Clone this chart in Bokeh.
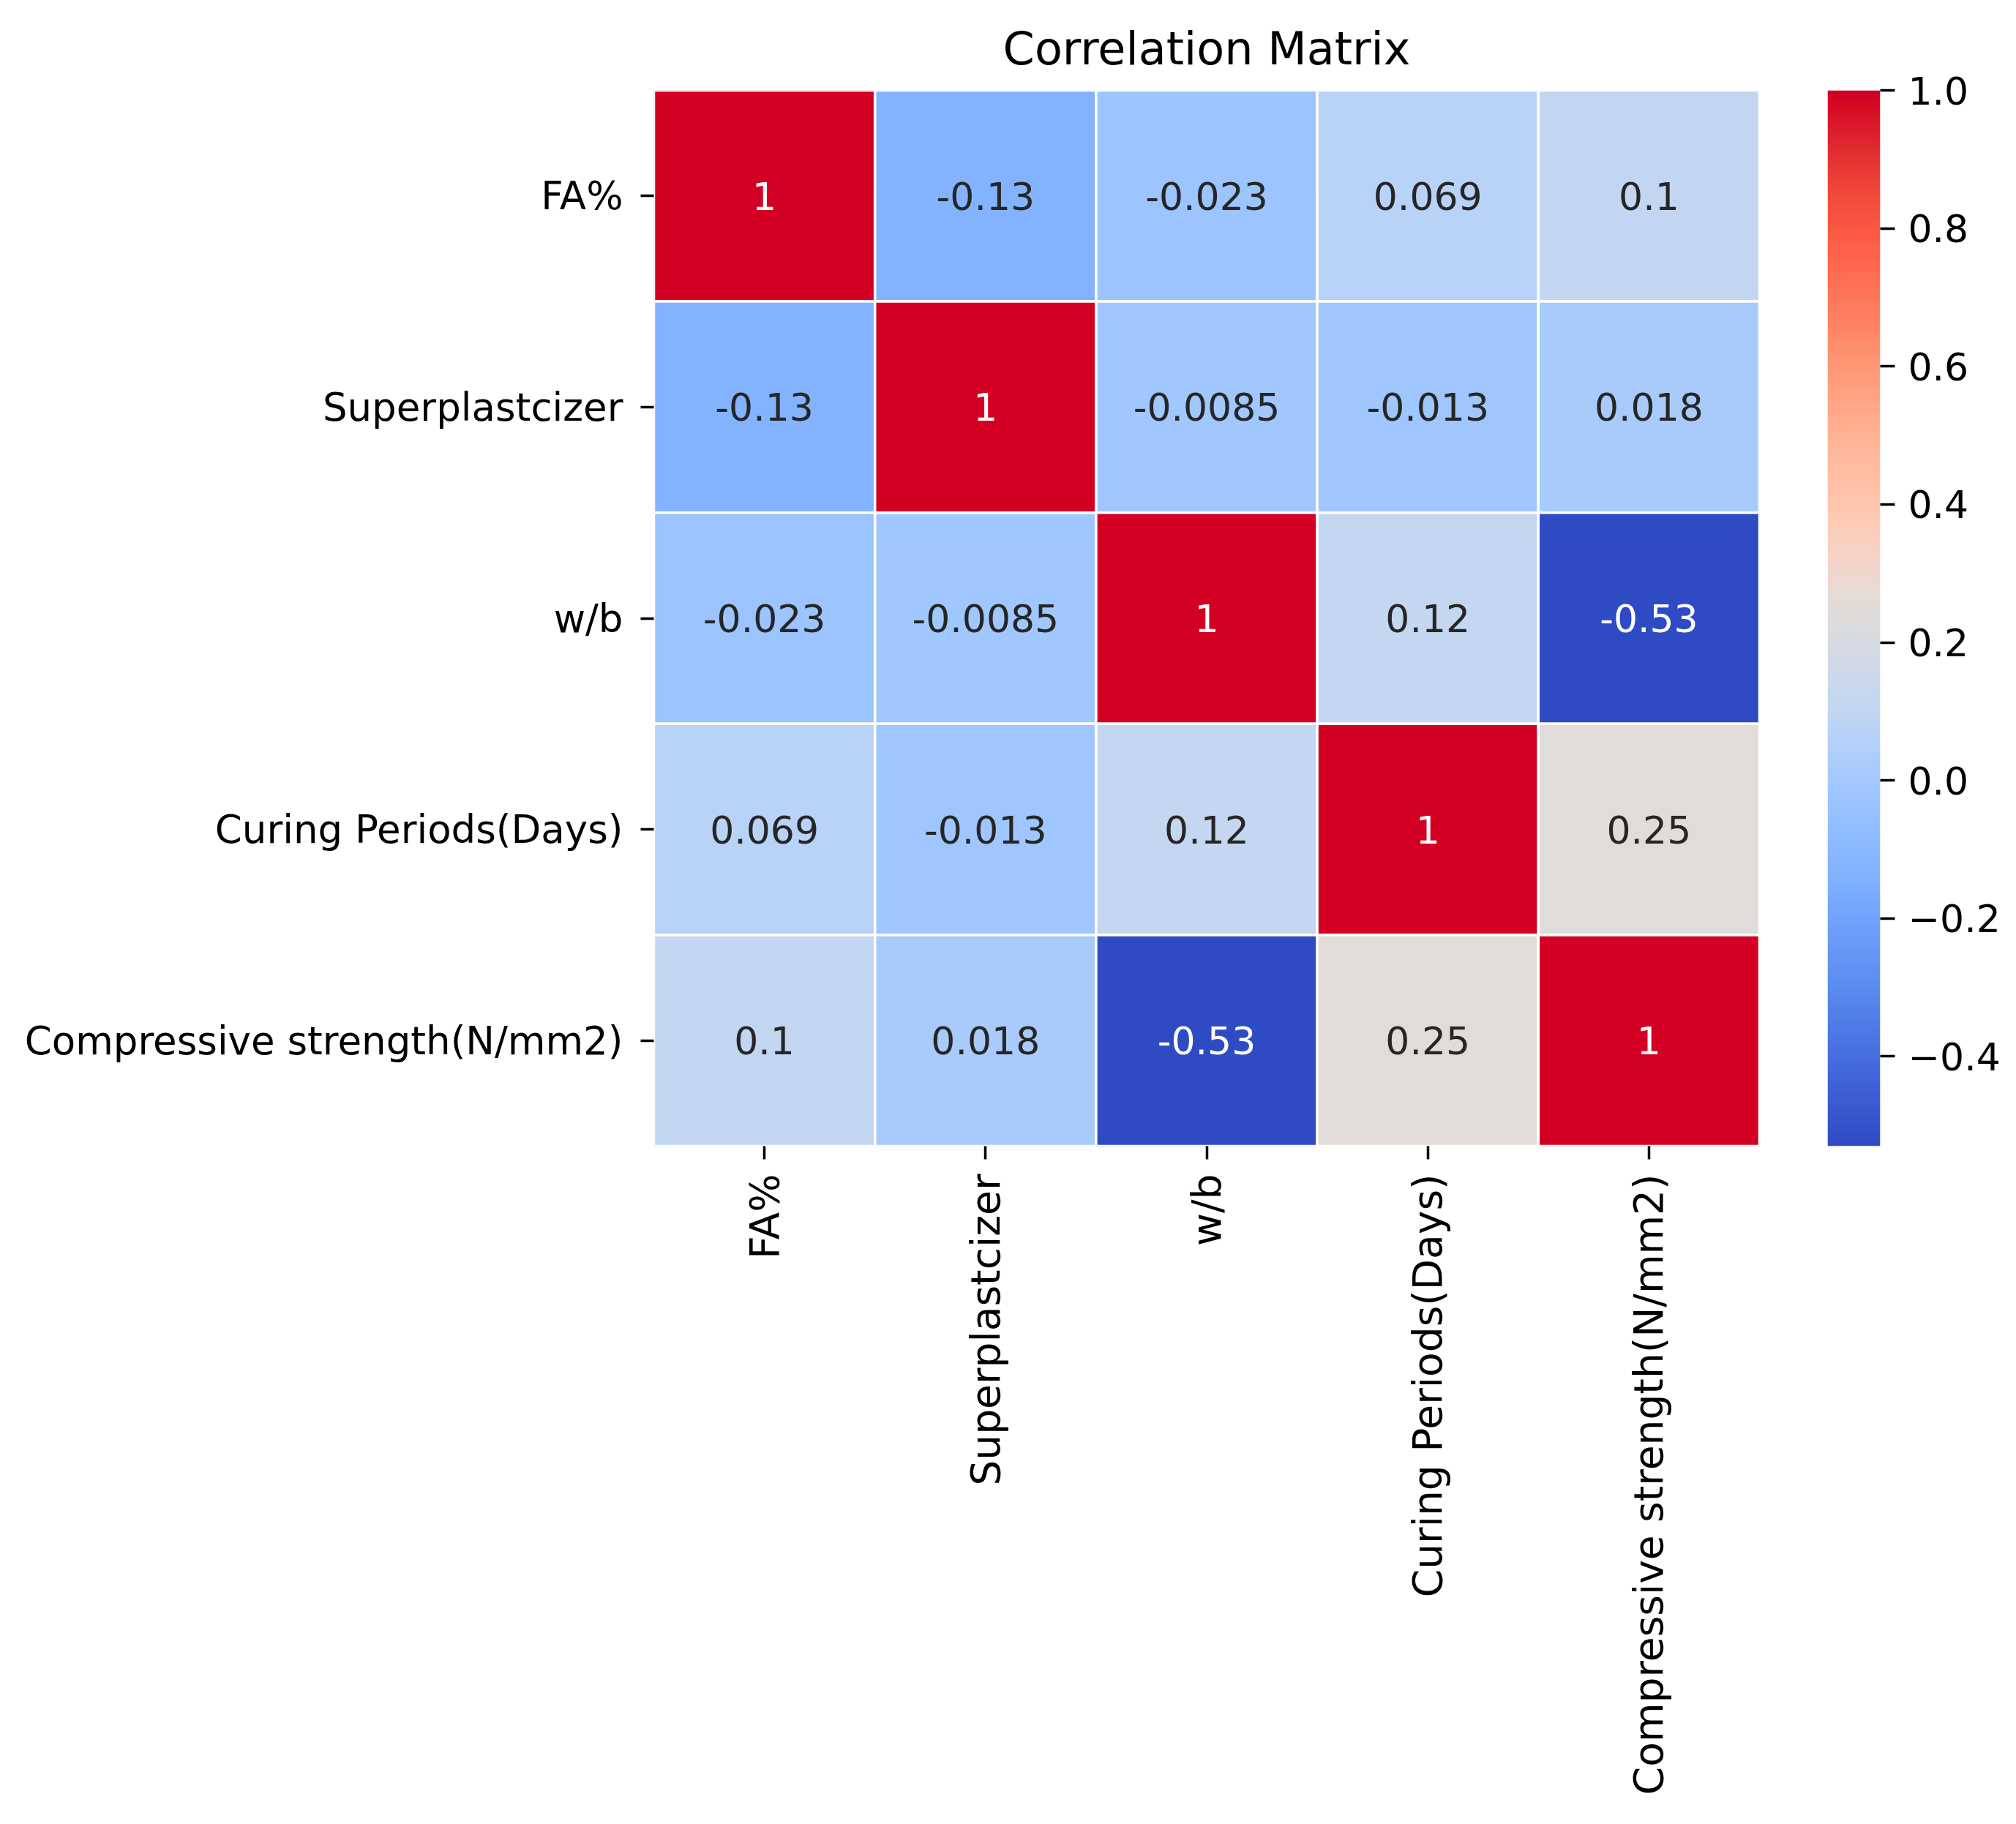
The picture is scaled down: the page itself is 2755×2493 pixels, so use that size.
import numpy as np
from bokeh.plotting import figure
from bokeh.models import (ColumnDataSource, LinearColorMapper, FixedTicker,
                          CustomJSTickFormatter, FactorRange, Range1d)
from bokeh.transform import transform
from bokeh.layouts import row
from bokeh.core.properties import value
from bokeh.embed import file_html
from bokeh.resources import INLINE

# ---------------- data ----------------
variables = ["FA%", "Superplastcizer", "w/b", "Curing Periods(Days)", "Compressive strength(N/mm2)"]
row_fa = [1.0, -0.13, -0.023, 0.069, 0.1]
row_sp = [-0.13, 1.0, -0.0085, -0.013, 0.018]
row_wb = [-0.023, -0.0085, 1.0, 0.12, -0.53]
row_cp = [0.069, -0.013, 0.12, 1.0, 0.25]
row_cs = [0.1, 0.018, -0.53, 0.25, 1.0]
rows = [row_fa, row_sp, row_wb, row_cp, row_cs]
labels_fa = ["1", "-0.13", "-0.023", "0.069", "0.1"]
labels_sp = ["-0.13", "1", "-0.0085", "-0.013", "0.018"]
labels_wb = ["-0.023", "-0.0085", "1", "0.12", "-0.53"]
labels_cp = ["0.069", "-0.013", "0.12", "1", "0.25"]
labels_cs = ["0.1", "0.018", "-0.53", "0.25", "1"]
label_rows = [labels_fa, labels_sp, labels_wb, labels_cp, labels_cs]
cbar_ticks = [-0.4, -0.2, 0.0, 0.2, 0.4, 0.6, 0.8, 1.0]
vmin, vmax = -0.53, 1.0

# ---------------- colour map (coolwarm as it appears in the reference) ----------------
cmap_anchor_vals = [-0.53, -0.42, -0.30, -0.20, -0.13, -0.01, 0.069, 0.10, 0.12, 0.18,
                    0.227, 0.27, 0.32, 0.38, 0.46, 0.54, 0.61, 0.69, 0.77, 0.85, 0.92, 1.0]
cmap_anchor_cols = ["#2f4bc4", "#4468db", "#5b8cf0", "#72a2fb", "#84b4ff", "#a0c7ff",
                    "#b8d3f7", "#c2d6f2", "#c5d7f0", "#d3d9e6", "#dcdcdc", "#e6dad6",
                    "#f5d4c8", "#ffcab4", "#ffbb9f", "#ffa888", "#ff9472", "#ff7a5c",
                    "#ff6148", "#f24a3c", "#e02a2e", "#d30023"]

def _hex2rgb(h):
    return np.array([int(h[i:i + 2], 16) for i in (1, 3, 5)], float)

_anc = np.array([_hex2rgb(c) for c in cmap_anchor_cols])
_lv = np.linspace(vmin, vmax, 256)
palette = []
for lv in _lv:
    rgb = [np.interp(lv, cmap_anchor_vals, _anc[:, k]) for k in range(3)]
    palette.append("#%02x%02x%02x" % tuple(int(round(c)) for c in rgb))

mapper = LinearColorMapper(palette=palette, low=vmin, high=vmax)

def _lum(hexcol):
    c = _hex2rgb(hexcol) / 255.0
    lin = np.where(c <= 0.04045, c / 12.92, ((c + 0.055) / 1.055) ** 2.4)
    return 0.2126 * lin[0] + 0.7152 * lin[1] + 0.0722 * lin[2]

# ---------------- table ----------------
xs, ys, vals, texts, tcolors = [], [], [], [], []
for r, name_r in enumerate(variables):
    for c, name_c in enumerate(variables):
        v = rows[r][c]
        xs.append(name_c)
        ys.append(name_r)
        vals.append(v)
        texts.append(label_rows[r][c])
        idx = int(np.clip((v - vmin) / (vmax - vmin) * 256, 0, 255))
        tcolors.append("#262626" if _lum(palette[idx]) > 0.408 else "#ffffff")

src = ColumnDataSource(dict(x=xs, y=ys, v=vals, t=texts, tc=tcolors))

FONT = "DejaVu Sans"
H = 2490
TOP = 123
FRAME_H = 1443

p = figure(x_range=FactorRange(*variables), y_range=FactorRange(*variables[::-1]),
           width=2404, height=H, output_backend="svg", toolbar_location=None,
           min_border_left=893, min_border_right=0, min_border_top=TOP,
           min_border_bottom=H - TOP - FRAME_H, title="Correlation Matrix")
p.x_range.range_padding = 0
p.y_range.range_padding = 0

p.rect(x="x", y="y", width=1, height=1, source=src,
       fill_color=transform("v", mapper), line_color="white", line_width=3.5)
p.text(x="x", y="y", text="t", source=src, text_color="tc",
       text_align="center", text_baseline="middle",
       text_font=value(FONT), text_font_size="52px")

p.title.align = "center"
p.title.text_font = FONT
p.title.text_font_size = "62px"
p.title.text_font_style = "normal"
p.title.text_color = "#000000"
p.title.standoff = 42

p.grid.visible = False
p.outline_line_color = None
p.background_fill_color = "white"
p.border_fill_color = "white"

for ax in (p.xaxis[0], p.yaxis[0]):
    ax.axis_line_color = None
    ax.major_tick_in = 0
    ax.major_tick_out = 18
    ax.major_tick_line_width = 3.5
    ax.major_tick_line_color = "black"
    ax.minor_tick_line_color = None
    ax.major_label_text_font = FONT
    ax.major_label_text_color = "black"
p.xaxis.major_label_text_font_size = "55px"
p.xaxis.major_label_standoff = 20
p.yaxis.major_label_text_font_size = "53px"
p.yaxis.major_label_standoff = 24
p.xaxis.major_label_orientation = np.pi / 2

# ---------------- colour bar (separate narrow figure) ----------------
cbf = figure(width=346, height=H, output_backend="svg", toolbar_location=None,
             x_range=Range1d(0, 1), y_range=Range1d(vmin, vmax),
             x_axis_location=None, y_axis_location="right",
             min_border_left=93, min_border_right=346 - 93 - 72, min_border_top=TOP,
             min_border_bottom=H - TOP - FRAME_H)
cbf.grid.visible = False
cbf.outline_line_color = None
cbf.background_fill_color = "white"
cbf.border_fill_color = "white"
grad = np.array(_lv).reshape(-1, 1)
cbf.image(image=[grad], x=0, y=vmin, dw=1, dh=vmax - vmin, color_mapper=mapper)
ya = cbf.yaxis[0]
ya.ticker = FixedTicker(ticks=cbar_ticks)
ya.formatter = CustomJSTickFormatter(code="return tick.toFixed(1).replace('-', '\u2212');")
ya.axis_line_color = None
ya.major_tick_in = 0
ya.major_tick_out = 20
ya.major_tick_line_width = 3.5
ya.major_tick_line_color = "black"
ya.minor_tick_line_color = None
ya.major_label_text_font = FONT
ya.major_label_text_font_size = "52px"
ya.major_label_text_color = "black"
ya.major_label_standoff = 18

layout = row(p, cbf)
open("out.html", "w").write(file_html(layout, INLINE))
